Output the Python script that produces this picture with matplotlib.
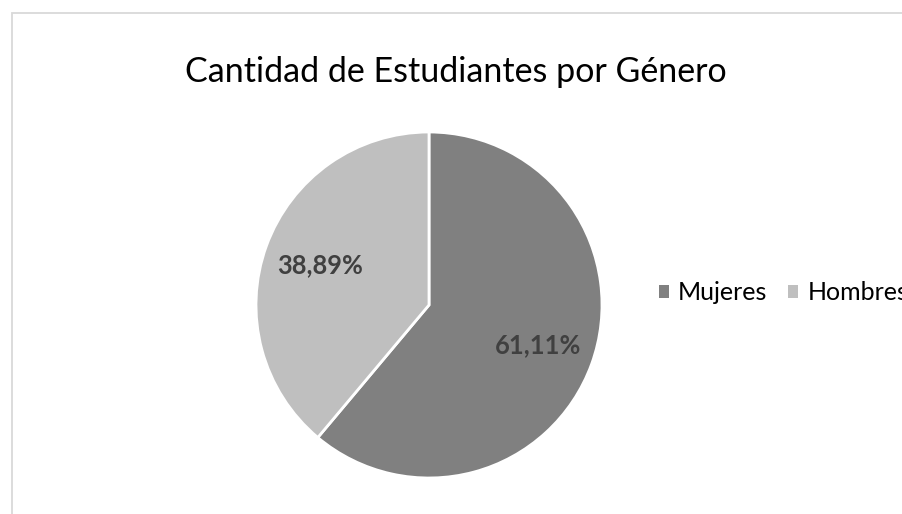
import matplotlib
matplotlib.use("Agg")
import matplotlib.pyplot as plt
from matplotlib.patches import Rectangle, Patch

categories = ["Mujeres", "Hombres"]
values = [11, 7]
colors = ["#808080", "#BFBFBF"]
title = "Cantidad de Estudiantes por Género"

plt.rcParams['font.family'] = ['Lato', 'DejaVu Sans']

W, H = 902, 514
fig = plt.figure(figsize=(W/100, H/100), dpi=100)

# chart border (extends beyond right/bottom edge)
fig.patches.append(Rectangle((12/W, -0.1), 1.2, 1 - 13/H + 0.1, transform=fig.transFigure,
                             fill=False, edgecolor="#D9D9D9", linewidth=1.3))

cx, cy, r = 429, 305, 173
ax = fig.add_axes([(cx - r)/W, (H - cy - r)/H, 2*r/W, 2*r/H])
wedges, texts, autotexts = ax.pie(
    values, colors=colors, startangle=90, counterclock=False,
    autopct=lambda p: f"{p:.2f}%".replace(".", ","), pctdistance=0.67,
    wedgeprops=dict(edgecolor="white", linewidth=2),
    textprops=dict(color="#404040", fontsize=18.4, fontweight="bold"))
ax.set_xlim(-1, 1); ax.set_ylim(-1, 1)
ax.set_aspect("equal")

fig.text(456/W, 1 - 72/H, title, ha="center", va="center", fontsize=24.5, color="#000000")

handles = [Patch(facecolor=c, edgecolor="none") for c in colors]
fig.legend(handles, categories, loc="center left", bbox_to_anchor=(659/W, 1 - 293/H),
           ncol=2, frameon=False, fontsize=18, handlelength=0.4, handleheight=0.4,
           handletextpad=0.36, columnspacing=0.84, borderpad=0, borderaxespad=0,
           labelcolor="#000000")

fig.savefig("out.png", dpi=100)
